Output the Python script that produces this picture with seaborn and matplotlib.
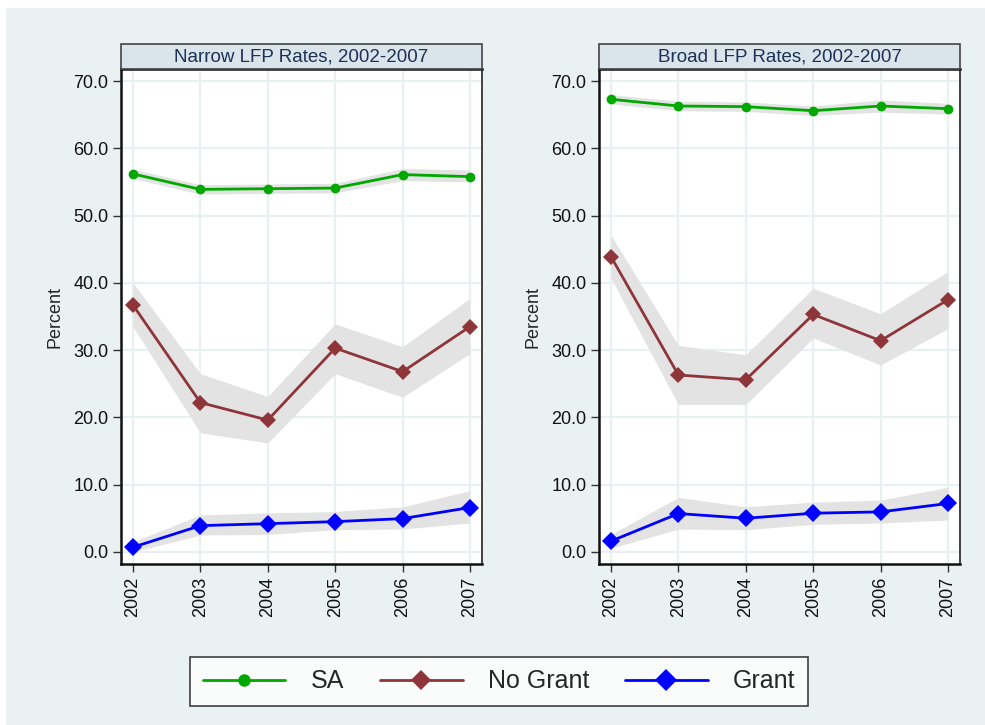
import numpy as np
import pandas as pd
import matplotlib
matplotlib.use("Agg")
import matplotlib.pyplot as plt
from matplotlib.patches import Rectangle
from matplotlib.lines import Line2D
import seaborn as sns

years = [2002, 2003, 2004, 2005, 2006, 2007]
series_names = ["SA", "No Grant", "Grant"]

# Narrow labour-force participation rates (point estimate, lower, upper)
narrow_sa = [56.2, 53.9, 54.0, 54.1, 56.1, 55.8]
narrow_sa_lo = [55.5, 53.2, 53.3, 53.4, 55.2, 55.0]
narrow_sa_hi = [56.9, 54.6, 54.7, 54.8, 57.0, 56.8]
narrow_nogrant = [36.7, 22.2, 19.6, 30.3, 26.8, 33.5]
narrow_nogrant_lo = [33.5, 17.7, 16.2, 26.5, 23.0, 29.5]
narrow_nogrant_hi = [40.0, 26.5, 23.1, 33.9, 30.5, 37.7]
narrow_grant = [0.7, 3.9, 4.2, 4.5, 4.95, 6.6]
narrow_grant_lo = [0.0, 2.5, 2.6, 3.3, 3.4, 4.3]
narrow_grant_hi = [1.5, 5.5, 5.8, 6.0, 6.7, 9.1]

# Broad labour-force participation rates (point estimate, lower, upper)
broad_sa = [67.3, 66.3, 66.2, 65.6, 66.3, 65.9]
broad_sa_lo = [66.6, 65.6, 65.5, 64.9, 65.4, 65.1]
broad_sa_hi = [68.0, 67.0, 66.9, 66.3, 67.2, 66.7]
broad_nogrant = [43.9, 26.3, 25.6, 35.3, 31.4, 37.5]
broad_nogrant_lo = [40.7, 21.9, 21.9, 31.8, 27.8, 33.2]
broad_nogrant_hi = [47.1, 30.7, 29.3, 39.2, 35.4, 41.7]
broad_grant = [1.6, 5.7, 5.0, 5.75, 5.95, 7.2]
broad_grant_lo = [0.55, 3.4, 3.3, 4.1, 4.3, 4.75]
broad_grant_hi = [2.6, 8.1, 6.7, 7.4, 7.7, 9.6]

panel_titles = ["Narrow LFP Rates, 2002-2007", "Broad LFP Rates, 2002-2007"]
y_ticks = [0, 10, 20, 30, 40, 50, 60, 70]

colors = {"SA": "#00A800", "No Grant": "#8E3539", "Grant": "#0000FF"}
markers = {"SA": "o", "No Grant": "D", "Grant": "D"}
msizes = {"SA": 7, "No Grant": 8, "Grant": 9}

panels = [
    {
        "SA": (narrow_sa, narrow_sa_lo, narrow_sa_hi),
        "No Grant": (narrow_nogrant, narrow_nogrant_lo, narrow_nogrant_hi),
        "Grant": (narrow_grant, narrow_grant_lo, narrow_grant_hi),
    },
    {
        "SA": (broad_sa, broad_sa_lo, broad_sa_hi),
        "No Grant": (broad_nogrant, broad_nogrant_lo, broad_nogrant_hi),
        "Grant": (broad_grant, broad_grant_lo, broad_grant_hi),
    },
]

sns.set_style("white")
plt.rcParams["font.family"] = ["Liberation Sans", "DejaVu Sans"]

bg = "#E9F1F3"
grid_c = "#E8F0F2"
W, H = 985, 725
fig = plt.figure(figsize=(W / 100, H / 100), dpi=100, facecolor="white")
fig.patches.append(Rectangle((6 / W, 0), 1, (H - 8) / H, transform=fig.transFigure,
                             facecolor=bg, edgecolor="none", zorder=-10))

ax_top, ax_bot = 69, 564
head_h = 25
lefts = [121, 599]
ax_w = 361

for i, (left, data, title) in enumerate(zip(lefts, panels, panel_titles)):
    ax = fig.add_axes([left / W, 1 - ax_bot / H, ax_w / W, (ax_bot - ax_top) / H])
    ax.set_facecolor("white")

    rows = []
    for name in series_names:
        est, lo, hi = data[name]
        ax.fill_between(years, lo, hi, color="#E3E3E3", lw=0, zorder=1)
        for yr, v in zip(years, est):
            rows.append({"year": yr, "value": v, "series": name})
    df = pd.DataFrame(rows)

    sns.lineplot(data=df, x="year", y="value", hue="series", style="series",
                 palette=colors, markers=markers, dashes=False, ax=ax,
                 linewidth=2, legend=False, zorder=3, markeredgewidth=0)
    for line, name in zip(ax.get_lines(), series_names):
        line.set_markersize(msizes[name])

    ax.set_xlim(2002 - 0.178, 2007 + 0.178)
    ax.set_ylim(-1.8, 71.8)
    ax.set_xticks(years)
    ax.set_xticklabels([str(y) for y in years], rotation=90, fontsize=13)
    ax.set_yticks(y_ticks)
    ax.set_yticklabels([f"{t:.1f}" for t in y_ticks], fontsize=13)
    ax.set_xlabel("")
    ax.set_ylabel("Percent", fontsize=13, labelpad=7)
    ax.grid(True, color=grid_c, lw=1.6, zorder=0)
    ax.set_axisbelow(True)
    ax.tick_params(axis="both", direction="out", length=6, width=1, color="#333333",
                   left=True, bottom=True, pad=3, labelcolor="#111111")

    for side in ["left", "bottom"]:
        ax.spines[side].set_color("#111111")
        ax.spines[side].set_linewidth(1.8)
    ax.spines["right"].set_color("#333333")
    ax.spines["right"].set_linewidth(1.3)
    ax.spines["top"].set_color("#111111")
    ax.spines["top"].set_linewidth(1.8)

    hfrac = head_h / (ax_bot - ax_top)
    ax.add_patch(Rectangle((0, 1), 1, hfrac, transform=ax.transAxes, clip_on=False,
                           facecolor="#D9E5EB", edgecolor="#444444", lw=1.2, zorder=5))
    ax.text(0.5, 1 + hfrac / 2, title, transform=ax.transAxes, ha="center", va="center",
            fontsize=13.5, color="#1F2F55", zorder=6)

handles = [Line2D([], [], color=colors[n], marker=markers[n], lw=2,
                  markersize=msizes[n] + 2, markeredgewidth=0) for n in series_names]
leg = fig.legend(handles, series_names, loc="center", bbox_to_anchor=(499 / W, 1 - 681.5 / H),
                 ncol=3, fontsize=18, frameon=True, fancybox=False, handlelength=3.3,
                 columnspacing=1.45, handletextpad=1.0, borderpad=0.5, edgecolor="#111111")
leg.get_frame().set_linewidth(1.2)
leg.get_frame().set_facecolor("white")

fig.savefig("out.png", dpi=100, facecolor="white")
